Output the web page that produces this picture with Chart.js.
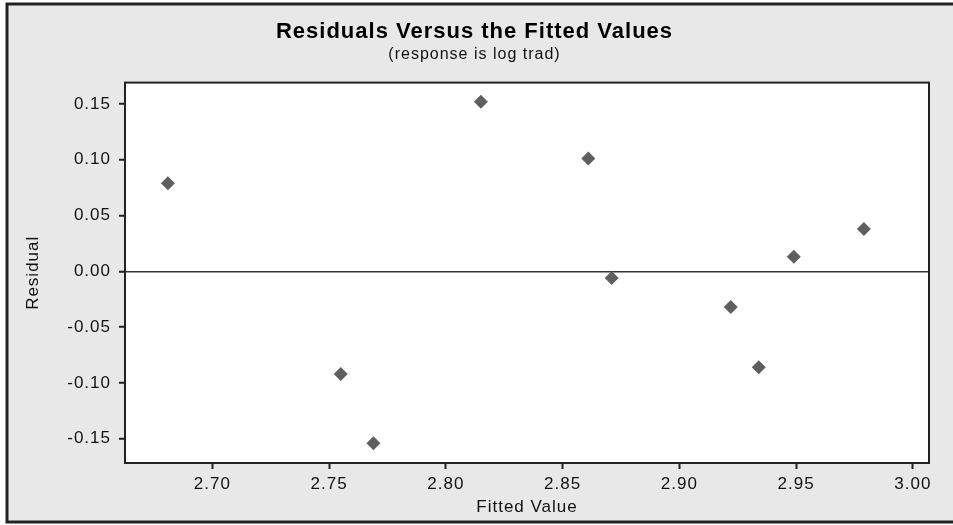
<!DOCTYPE html>
<html>
<head>
<meta charset="utf-8">
<script src="https://cdn.jsdelivr.net/npm/chart.js@4.4.1/dist/chart.umd.min.js"></script>
<style>
  html, body { margin: 0; padding: 0; background: #fff; }
</style>
</head>
<body>
<canvas id="residChart" width="953" height="525"></canvas>
<script>
// values
const fittedValues = [2.681, 2.755, 2.769, 2.815, 2.861, 2.871, 2.922, 2.934, 2.949, 2.979];
const residuals = [0.079, -0.092, -0.154, 0.152, 0.101, -0.006, -0.032, -0.086, 0.013, 0.038];

const xTicks = [2.70, 2.75, 2.80, 2.85, 2.90, 2.95, 3.00];
const yTicks = [-0.15, -0.10, -0.05, 0.00, 0.05, 0.10, 0.15];

const points = [];
for (let i = 0; i < fittedValues.length; i++) {
    points.push({ x: fittedValues[i], y: residuals[i] });
}

Chart.defaults.font.family = '"Liberation Sans", Arial, sans-serif';
Chart.defaults.color = '#111';

// grey panel with the dark frame, white plot box with border
const framePlugin = {
    id: 'frame',
    beforeUpdate(chart) {
        chart.ctx.letterSpacing = '1px';
    },
    beforeDraw(chart) {
        const ctx = chart.ctx;
        const a = chart.chartArea;
        const w = chart.width;
        ctx.save();
        ctx.fillStyle = '#ffffff';
        ctx.fillRect(0, 0, w, chart.height);
        ctx.fillStyle = '#e8e8e8';
        ctx.fillRect(7, 4, w - 7, 518);
        ctx.strokeStyle = '#222';
        ctx.lineWidth = 3;
        ctx.beginPath();
        ctx.moveTo(w, 4);
        ctx.lineTo(7, 4);
        ctx.lineTo(7, 522);
        ctx.lineTo(w, 522);
        ctx.stroke();
        ctx.fillStyle = '#ffffff';
        ctx.fillRect(a.left, a.top, a.width, a.height);
        ctx.restore();
    },
    afterDraw(chart) {
        const ctx = chart.ctx;
        const a = chart.chartArea;
        ctx.save();
        ctx.strokeStyle = '#222';
        ctx.lineWidth = 2;
        ctx.strokeRect(a.left, a.top, a.width, a.height);
        ctx.restore();
    }
};

const ctx = document.getElementById('residChart');

new Chart(ctx, {
    type: 'scatter',
    data: {
        datasets: [{
            data: points,
            pointStyle: 'rectRot',
            pointRadius: 7,
            pointHoverRadius: 7,
            backgroundColor: '#5f5f5f',
            borderColor: '#5f5f5f',
            borderWidth: 0
        }]
    },
    options: {
        responsive: false,
        animation: false,
        layout: {
            padding: { top: 12, left: 20, right: 24, bottom: 6 }
        },
        plugins: {
            legend: { display: false },
            tooltip: { enabled: false },
            title: {
                display: true,
                text: 'Residuals Versus the Fitted Values',
                font: { size: 22, weight: 'bold' },
                color: '#000',
                padding: { top: 7, bottom: 0 }
            },
            subtitle: {
                display: true,
                text: '(response is log trad)',
                font: { size: 16 },
                color: '#111',
                padding: { top: 0, bottom: 18 }
            }
        },
        scales: {
            x: {
                type: 'linear',
                min: 2.6626,
                max: 3.0069,
                afterBuildTicks: (s) => { s.ticks = xTicks.map(v => ({ value: v })); },
                afterFit: (s) => { s.height = 56; },
                ticks: {
                    callback: (v) => Number(v).toFixed(2),
                    font: { size: 17 },
                    color: '#111',
                    padding: 5,
                    maxRotation: 0
                },
                grid: {
                    drawOnChartArea: false,
                    tickLength: 6,
                    tickColor: '#222',
                    tickWidth: 2
                },
                border: { display: false },
                title: {
                    display: true,
                    text: 'Fitted Value',
                    font: { size: 17 },
                    color: '#111',
                    padding: { top: 0, bottom: 1 }
                }
            },
            y: {
                min: -0.1718,
                max: 0.1691,
                afterBuildTicks: (s) => { s.ticks = yTicks.map(v => ({ value: v })); },
                afterFit: (s) => { s.width = 105; },
                ticks: {
                    callback: (v) => Number(v).toFixed(2),
                    font: { size: 17 },
                    color: '#111',
                    padding: 8
                },
                grid: {
                    color: (c) => (c.tick && c.tick.value === 0) ? '#333' : 'rgba(0,0,0,0)',
                    lineWidth: 1.5,
                    tickLength: 6,
                    tickColor: '#222',
                    tickWidth: 2
                },
                border: { display: false },
                title: {
                    display: true,
                    text: 'Residual',
                    font: { size: 17 },
                    color: '#111',
                    padding: { top: 3, bottom: 0 }
                }
            }
        }
    },
    plugins: [framePlugin]
});
</script>
</body>
</html>
